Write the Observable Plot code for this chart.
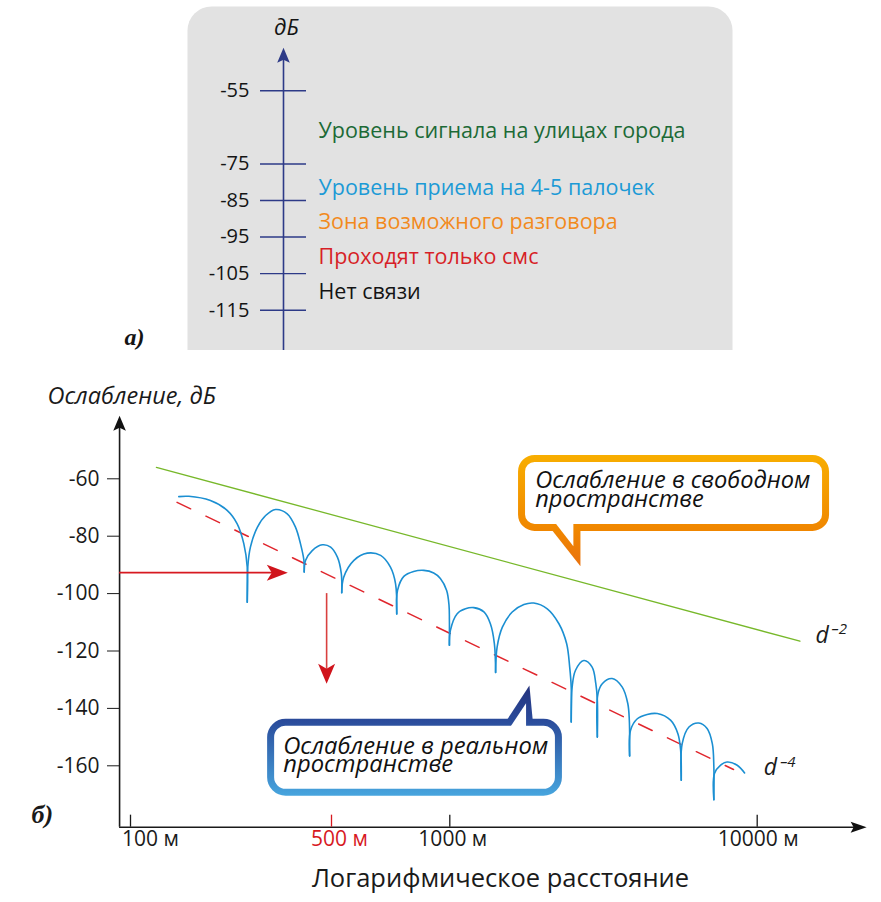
<!DOCTYPE html>
<html><head><meta charset="utf-8">
<script src="https://cdn.jsdelivr.net/npm/d3@7"></script>
<script src="https://cdn.jsdelivr.net/npm/@observablehq/plot@0.6"></script>
<style>
html,body{margin:0;padding:0;background:#fff;overflow:hidden;}
#chart svg{display:block;}
</style></head><body><div id="chart"></div>
<script>
// ---------- panel а): signal levels ----------
const levelTicks = [-55, -75, -85, -95, -105, -115];
const levelNames = ["Уровень сигнала на улицах города", "Уровень приема на 4-5 палочек",
  "Зона возможного разговора", "Проходят только смс", "Нет связи"];
const levelNameDb = [-66, -81.5, -91, -100.5, -110];

// ---------- panel б): attenuation vs log distance ----------
const yTicks = [-60, -80, -100, -120, -140, -160];
const xTickMeters = [100, 500, 1000, 10000];
const xTickLabels = ["100 м", "500 м", "1000 м", "10000 м"];
// free-space line (d^-2), lg(distance) and dB
const freeLg = [2.090, 4.139];
const freeDb = [-56.0, -116.6];
// real-space trend (d^-4)
const realLg = [2.162, 3.923];
const realDb = [-68.2, -161.3];
// measured attenuation arches [lg(distance), dB]
const arch1 = [[2.168,-66.2],[2.203,-66.1],[2.278,-67.6],[2.336,-71.0],[2.371,-75.7],[2.394,-82.6],[2.406,-90.8],[2.406,-103.0]];
const arch2 = [[2.406,-103.0],[2.408,-90.5],[2.417,-83.8],[2.441,-76.9],[2.470,-72.8],[2.504,-70.7],[2.545,-72.2],[2.574,-76.9],[2.591,-82.6],[2.603,-88.4],[2.604,-92.5]];
const arch3 = [[2.604,-92.5],[2.609,-88.4],[2.632,-85.0],[2.667,-83.0],[2.696,-83.8],[2.714,-87.3],[2.724,-93.1],[2.725,-99.7]];
const arch4 = [[2.725,-99.7],[2.730,-94.3],[2.756,-88.4],[2.790,-85.9],[2.824,-86.7],[2.849,-90.8],[2.862,-96.6],[2.865,-107.1]];
const arch5 = [[2.865,-107.1],[2.867,-98.9],[2.883,-94.0],[2.908,-92.3],[2.934,-91.9],[2.959,-92.8],[2.976,-94.7],[2.992,-98.9],[2.998,-104.1],[2.999,-109.3],[2.999,-118.0]];
const arch6 = [[2.999,-118.0],[3.002,-112.8],[3.024,-107.0],[3.051,-105.3],[3.078,-104.9],[3.111,-106.4],[3.132,-110.5],[3.145,-117.4],[3.149,-127.5]];
const arch7 = [[3.149,-127.5],[3.154,-118.6],[3.171,-111.7],[3.203,-106.4],[3.241,-103.8],[3.273,-103.3],[3.317,-105.3],[3.355,-110.5],[3.380,-117.4],[3.390,-125.6],[3.395,-132.6],[3.395,-144.7]];
const arch8 = [[3.395,-144.7],[3.398,-132.6],[3.409,-126.7],[3.436,-123.3],[3.463,-125.6],[3.475,-131.4],[3.480,-137.2],[3.480,-150.0]];
const arch9 = [[3.480,-150.0],[3.482,-134.9],[3.496,-131.4],[3.528,-129.6],[3.561,-132.6],[3.579,-138.3],[3.584,-144.1],[3.585,-156.6]];
const arch10 = [[3.585,-156.6],[3.588,-147.6],[3.610,-143.6],[3.642,-142.1],[3.675,-141.8],[3.718,-144.1],[3.742,-148.8],[3.751,-154.6],[3.753,-165.0]];
const arch11 = [[3.753,-165.0],[3.756,-152.3],[3.778,-146.5],[3.810,-145.1],[3.837,-147.0],[3.854,-152.3],[3.859,-160.4],[3.859,-171.8]];
const arch12 = [[3.859,-171.8],[3.861,-162.7],[3.881,-159.8],[3.902,-158.7],[3.935,-159.8],[3.959,-162.5]];
const arches = [arch1, arch2, arch3, arch4, arch5, arch6, arch7, arch8, arch9, arch10, arch11, arch12];
// red marker arrows: sms level reached, and the 500 m drop
const smsDb = -92.7;
const smsReachLg = [1.962, 2.547];
const dropLg = 2.682;
const dropDb = [-100.0, -131.4];
// axes extents (lg, dB)
const axisOriginLg = 1.962, axisEndLg = 4.356;
const axisFloorDb = -181.4, axisTopDb = -38.0;
// callouts (boxes and pointer tails) in lg / dB
const freeBoxLg = [3.235, 4.224], freeBoxDb = [-53.1, -77.1];
const freeTailOuter = [[3.323,-76.6],[3.425,-90.5],[3.425,-76.6]];
const freeTailInner = [[3.342,-75.2],[3.402,-83.5],[3.402,-75.2]];
const realBoxLg = [2.489, 3.355], realBoxDb = [-145.0, -169.4];
const realTailOuter = [[3.177,-145.5],[3.259,-132.0],[3.271,-145.5]];
const realTailInner = [[3.194,-146.9],[3.248,-138.2],[3.248,-146.9]];

// ---------- styles ----------
const FONT = "'Open Sans', 'Noto Sans', sans-serif";
const SERIF = "'Liberation Serif', 'DejaVu Serif', serif";
const navy = "#2d3a87";
const levelColors = ["#1c6a36", "#1c9ad6", "#f28a1d", "#d71f27", "#141414"];
const xTickColors = ["#1a1a1a", "#d7191f", "#1a1a1a", "#1a1a1a"];
const xLabelDx = [20, 8, 3, 1];

function arrowSymbol(dir, len, half, notch) {
  return {draw(ctx) {
    let pts;
    if (dir === "up") pts = [[0,0],[half,len],[0,len-notch],[-half,len]];
    else if (dir === "down") pts = [[0,0],[half,-len],[0,-len+notch],[-half,-len]];
    else pts = [[0,0],[-len,half],[-len+notch,0],[-len,-half]];
    ctx.moveTo(pts[0][0], pts[0][1]);
    for (let i = 1; i < pts.length; i++) ctx.lineTo(pts[i][0], pts[i][1]);
    ctx.closePath();
  }};
}

// ---------- top panel ----------
const topPlot = Plot.plot({
  width: 881, height: 350,
  marginLeft: 187, marginRight: 149, marginTop: 6, marginBottom: 0,
  style: {fontFamily: FONT, fontSize: "20px", color: "#141414", background: "#fff", overflow: "hidden"},
  x: {type: "identity"},
  y: {domain: [-115, -55], range: [309.7, 90.3], axis: null},
  color: {type: "identity"},
  marks: [
    Plot.frame({fill: "#e2e2e2", stroke: "none", rx: 24, insetBottom: -40}),
    Plot.ruleX([283], {y1: -135, y2: -46, stroke: navy, strokeWidth: 1.6}),
    Plot.dot([283], {x: d => d, y: () => -43.2, symbol: arrowSymbol("up", 15, 6.3, 3), fill: navy, stroke: "none"}),
    Plot.ruleY(levelTicks, {y: d => d, x1: 260, x2: 306, stroke: navy, strokeWidth: 1.4}),
    Plot.text(levelTicks, {y: d => d, x: 249, text: d => String(d), textAnchor: "end", fontSize: 20}),
    Plot.text(["дБ"], {x: 286, y: () => -37.8, fontStyle: "italic", fontSize: 22}),
    Plot.text(levelNames, {x: 318, y: (d, i) => levelNameDb[i], fill: (d, i) => levelColors[i], textAnchor: "start", fontSize: 21.5}),
    Plot.text(["а)"], {x: 134, y: () => -122.3, fontWeight: "bold", fontStyle: "italic", fontFamily: SERIF, fontSize: 24})
  ]
});

// ---------- bottom panel ----------
const lg = d => Math.log10(d);
const archPts = arches.flatMap((pts, k) => pts.map(p => ({k, lg: p[0], db: p[1]})));

const bottomPlot = Plot.plot({
  width: 881, height: 552,
  marginLeft: 119, marginRight: 15, marginTop: 65, marginBottom: 75.3,
  style: {fontFamily: FONT, fontSize: "21px", color: "#1a1a1a", background: "#fff", overflow: "visible"},
  x: {type: "linear", domain: [2, Math.log10(500), 3, 4], range: [130, 331, 449.3, 756.7], axis: null},
  y: {domain: [-60, -160], range: [128.3, 415.3], axis: "left", ticks: yTicks, tickSize: 12, tickPadding: 8, tickFormat: d => String(d), label: null},
  color: {type: "identity"},
  marks: [
    // axes
    Plot.ruleX([axisOriginLg], {x: d => d, y1: axisFloorDb, y2: axisTopDb - 3.5, stroke: "#1a1a1a", strokeWidth: 1.6}),
    Plot.ruleY([axisFloorDb], {y: d => d, x1: axisOriginLg, x2: 4.323, stroke: "#1a1a1a", strokeWidth: 1.6}),
    Plot.dot([[axisOriginLg, axisTopDb]], {x: d => d[0], y: d => d[1], symbol: arrowSymbol("up", 15, 6.3, 3), fill: "#111", stroke: "none"}),
    Plot.dot([[axisEndLg, axisFloorDb]], {x: d => d[0], y: d => d[1], symbol: arrowSymbol("right", 16, 5.5, 3), fill: "#111", stroke: "none"}),
    Plot.ruleX(xTickMeters, {x: lg, y1: axisFloorDb, y2: axisFloorDb + 4.2, stroke: (d, i) => xTickColors[i], strokeWidth: 1.3}),
    ...xTickMeters.map((m, i) => Plot.text([m], {x: lg, text: () => xTickLabels[i], frameAnchor: "bottom", dy: 19, dx: xLabelDx[i], fill: xTickColors[i], fontSize: 21})),
    // curves
    Plot.line(freeLg, {x: d => d, y: (d, i) => freeDb[i], stroke: "#77b82a", strokeWidth: 1.3}),
    Plot.line(realLg, {x: d => d, y: (d, i) => realDb[i], stroke: "#e0262d", strokeWidth: 1.5, strokeDasharray: "15,17"}),
    Plot.line(archPts, {x: "lg", y: "db", z: "k", curve: "catmull-rom", stroke: "#1b8fd2", strokeWidth: 1.6}),
    // red arrows
    Plot.ruleY([smsDb], {y: d => d, x1: smsReachLg[0], x2: smsReachLg[1] - 0.05, stroke: "#d71920", strokeWidth: 1.6}),
    Plot.dot([[smsReachLg[1], smsDb]], {x: d => d[0], y: d => d[1], symbol: arrowSymbol("right", 21, 8, 5), fill: "#d0141c", stroke: "none"}),
    Plot.ruleX([dropLg], {x: d => d, y1: dropDb[0], y2: dropDb[1] + 5, stroke: "#d9403f", strokeWidth: 1.6}),
    Plot.dot([[dropLg, dropDb[1]]], {x: d => d[0], y: d => d[1], symbol: arrowSymbol("down", 20, 8.5, 5), fill: "#d0141c", stroke: "none"}),
    // callouts
    Plot.rect([0], {x1: freeBoxLg[0], x2: freeBoxLg[1], y1: freeBoxDb[0], y2: freeBoxDb[1], rx: 13, fill: "white", stroke: "url(#gOrange)", strokeWidth: 7}),
    Plot.line(freeTailOuter, {x: d => d[0], y: d => d[1], fill: "url(#gOrange)", stroke: "none"}),
    Plot.line(freeTailInner, {x: d => d[0], y: d => d[1], fill: "white", stroke: "none"}),
    Plot.rect([0], {x1: realBoxLg[0], x2: realBoxLg[1], y1: realBoxDb[0], y2: realBoxDb[1], rx: 15, fill: "white", stroke: "url(#gBlue)", strokeWidth: 7}),
    Plot.line(realTailOuter, {x: d => d[0], y: d => d[1], fill: "url(#gBlue)", stroke: "none"}),
    Plot.line(realTailInner, {x: d => d[0], y: d => d[1], fill: "white", stroke: "none"}),
    Plot.text(["Ослабление в свободном\nпространстве"], {x: () => 3.278, y: () => -64.4, textAnchor: "start", lineHeight: 0.78, fontStyle: "italic", fontSize: 23.6, fill: "#111"}),
    Plot.text(["Ослабление в реальном\nпространстве"], {x: () => 2.531, y: () => -157.0, textAnchor: "start", lineHeight: 0.78, fontStyle: "italic", fontSize: 23.8, fill: "#111"}),
    // d labels
    Plot.text(["d"], {x: () => 4.190, y: () => -114.6, textAnchor: "start", fontStyle: "italic", fontSize: 23}),
    Plot.text(["–2"], {x: () => 4.190, y: () => -114.6, dx: 16, dy: -6, textAnchor: "start", fontStyle: "italic", fontSize: 15}),
    Plot.text(["d"], {x: () => 4.021, y: () => -160.5, textAnchor: "start", fontStyle: "italic", fontSize: 23}),
    Plot.text(["–4"], {x: () => 4.021, y: () => -160.5, dx: 16.5, dy: -5, textAnchor: "start", fontStyle: "italic", fontSize: 15}),
    // titles
    Plot.text(["Ослабление, дБ"], {frameAnchor: "top-left", dx: -72, dy: -28, textAnchor: "start", fontStyle: "italic", fontSize: 23.5}),
    Plot.text(["Логарифмическое расстояние"], {frameAnchor: "bottom", dx: 7.5, dy: 60, fontSize: 25.5}),
    Plot.text(["б)"], {frameAnchor: "bottom-left", dx: -88, dy: -4, fontWeight: "bold", fontStyle: "italic", fontFamily: SERIF, fontSize: 26})
  ]
});

// gradients for the callout borders
const ys = bottomPlot.scale("y");
const defs = d3.select(bottomPlot).insert("defs", ":first-child");
const go = defs.append("linearGradient").attr("id", "gOrange").attr("gradientUnits", "userSpaceOnUse")
  .attr("x1", 0).attr("x2", 0).attr("y1", ys.apply(freeBoxDb[0] + 1.2)).attr("y2", ys.apply(freeTailOuter[1][1]));
go.append("stop").attr("offset", 0).attr("stop-color", "#f8ae00");
go.append("stop").attr("offset", 0.68).attr("stop-color", "#f08600");
go.append("stop").attr("offset", 1).attr("stop-color", "#e9720f");
const gb = defs.append("linearGradient").attr("id", "gBlue").attr("gradientUnits", "userSpaceOnUse")
  .attr("x1", 0).attr("x2", 0).attr("y1", ys.apply(realTailOuter[1][1])).attr("y2", ys.apply(realBoxDb[1] - 1.2));
gb.append("stop").attr("offset", 0).attr("stop-color", "#25337d");
gb.append("stop").attr("offset", 0.31).attr("stop-color", "#2a4a9a");
gb.append("stop").attr("offset", 1).attr("stop-color", "#47a5de");

const host = document.getElementById("chart");
host.append(topPlot, bottomPlot);
</script>
</body></html>
